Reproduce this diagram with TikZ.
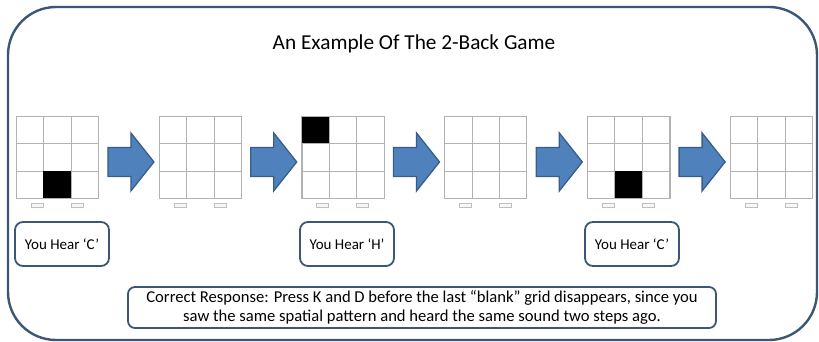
\documentclass[tikz,border=0pt]{standalone}
\usepackage{fontspec}
\setmainfont{Carlito}
\usetikzlibrary{calc}
\definecolor{framecol}{RGB}{59,86,118}
\definecolor{arrowfill}{RGB}{79,129,189}
\definecolor{arrowline}{RGB}{56,93,138}
\definecolor{gridcol}{RGB}{178,178,178}
\tikzset{
  panel/.style={draw=gridcol, line width=0.9pt, fill=white, minimum width=82pt, minimum height=82pt, inner sep=0pt},
  cellline/.style={draw=gridcol, line width=0.9pt},
  blockarrow/.style={fill=arrowfill, draw=arrowline, line width=1.3pt, line join=miter},
  hearbox/.style={draw=framecol, line width=1.8pt, rounded corners=8pt, minimum width=94pt, minimum height=44pt, font=\fontsize{15}{17}\selectfont},
  notebox/.style={draw=framecol, line width=1.8pt, rounded corners=7pt, minimum width=588pt, minimum height=41pt, align=center, font=\fontsize{16.6}{19}\selectfont},
  keylabel/.style={draw=gray!50, line width=0.4pt, fill=gray!6, minimum width=12pt, minimum height=4pt, inner sep=0pt},
}
\begin{document}
\begin{tikzpicture}[x=1pt, y=-1pt]
\useasboundingbox (0,0) rectangle (819,342);
% outer frame
\draw[framecol, line width=2.4pt, rounded corners=48pt] (8,7) rectangle (817,340);

\node (title) at (414,44) {\fontsize{21.3}{24}\selectfont An Example Of The 2-Back Game};

% six 3x3 panels
\foreach \i in {1,...,6}{
  \node[panel, anchor=north west] (g\i) at ({16+142.8*(\i-1)},116) {};
  \foreach \k in {1,2}{
    \draw[cellline] ($(g\i.north west)!\k/3!(g\i.north east)$) -- ($(g\i.south west)!\k/3!(g\i.south east)$);
    \draw[cellline] ($(g\i.north west)!\k/3!(g\i.south west)$) -- ($(g\i.north east)!\k/3!(g\i.south east)$);
  }
  \node[keylabel] (ka\i) at ($(g\i.south west)+(21,6.5)$) {};
  \node[keylabel] (kb\i) at ($(g\i.south west)+(61,6.5)$) {};
}

% highlighted squares
\fill[black] ($(g1.north west)+(27.33,54.67)$) rectangle ++(27.33,27.33);
\fill[black] ($(g3.north west)+(0,0)$) rectangle ++(27.33,27.33);
\fill[black] ($(g5.north west)+(27.33,54.67)$) rectangle ++(27.33,27.33);
\foreach \i in {1,3,5}{
  \draw[gridcol, line width=0.9pt] (g\i.north west) rectangle (g\i.south east);
}

% block arrows between panels
\foreach \i/\j in {1/2,2/3,3/4,4/5,5/6}{
  \draw[blockarrow] ($(g\i.east)+(9,4.5)$) ++(0,-14.5) -- ++(23,0) -- ++(0,-14.5)
     -- ++(23,29) -- ++(-23,29) -- ++(0,-14.5) -- ++(-23,0) -- cycle;
}

% sounds
\node[hearbox] (h1) at (62,244) {You Hear ‘C’};
\node[hearbox] (h2) at (347,244) {You Hear ‘H’};
\node[hearbox] (h3) at (632,244) {You Hear ‘C’};

\node[notebox] (note) at (422,307.5) {Correct Response: Press K and D before the last “blank” grid disappears, since you\\saw the same spatial pattern and heard the same sound two steps ago.};
\end{tikzpicture}
\end{document}
